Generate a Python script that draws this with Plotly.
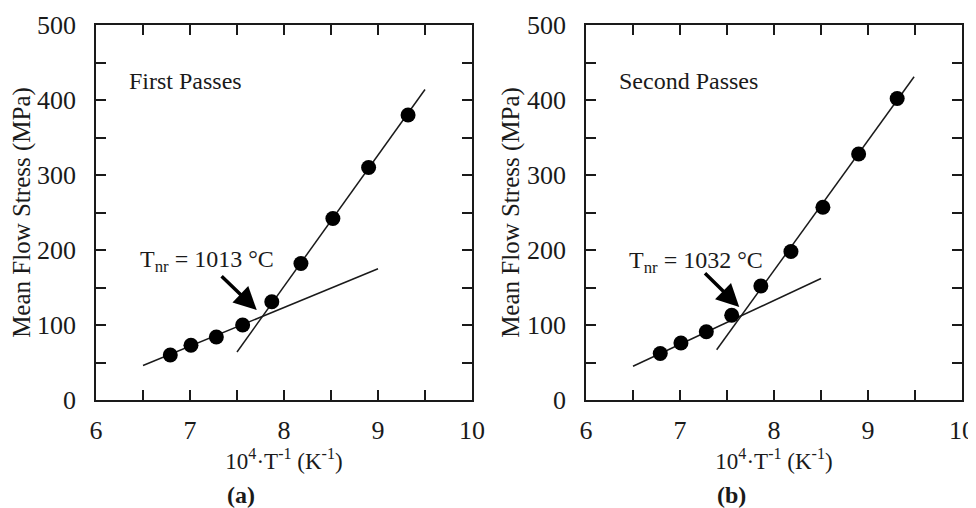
import plotly.graph_objects as go

# First passes
x_first = [6.79, 7.01, 7.28, 7.56, 7.87, 8.18, 8.52, 8.90, 9.32]
y_first = [60, 73, 84, 100, 131, 182, 242, 310, 380]
low_first_x = [6.5, 9.0]
low_first_y = [46, 175]
high_first_x = [7.5, 9.5]
high_first_y = [64, 414]

# Second passes
x_second = [6.79, 7.01, 7.28, 7.55, 7.86, 8.18, 8.52, 8.90, 9.31]
y_second = [62, 76, 91, 113, 152, 198, 257, 328, 402]
low_second_x = [6.5, 8.5]
low_second_y = [45, 162]
high_second_x = [7.39, 9.49]
high_second_y = [67, 431]

panel_titles = ["First Passes", "Second Passes"]
tnr_labels = ["T<sub>nr</sub> = 1013 °C", "T<sub>nr</sub> = 1032 °C"]
panel_letters = ["<b>(a)</b>", "<b>(b)</b>"]

FONT = "Liberation Serif"
INK = "#1a1a1a"

fig = go.Figure()

panels = [
    (x_first, y_first, low_first_x, low_first_y, high_first_x, high_first_y, "x", "y"),
    (x_second, y_second, low_second_x, low_second_y, high_second_x, high_second_y, "x2", "y2"),
]

for px, py, lx, ly, hx, hy, xa, ya in panels:
    fig.add_trace(go.Scatter(x=lx, y=ly, mode="lines", xaxis=xa, yaxis=ya,
                             line=dict(color=INK, width=1.5), showlegend=False))
    fig.add_trace(go.Scatter(x=hx, y=hy, mode="lines", xaxis=xa, yaxis=ya,
                             line=dict(color=INK, width=1.5), showlegend=False))
    fig.add_trace(go.Scatter(x=px, y=py, mode="markers", xaxis=xa, yaxis=ya,
                             marker=dict(color="black", size=15), showlegend=False))

axis_common = dict(
    showline=True, linecolor=INK, linewidth=1.5, mirror="ticks",
    ticks="inside", ticklen=10, tickwidth=1.5, tickcolor=INK,
    showgrid=False, zeroline=False, automargin=False,
    tickfont=dict(family=FONT, size=26, color=INK),
)

x_axis = dict(axis_common, range=[6, 10], dtick=1, tick0=6,
              minor=dict(dtick=0.5, ticks="inside", ticklen=10, tickwidth=1.5, tickcolor=INK),
              ticklabelstandoff=6,
              title=dict(text="10<sup>4</sup>·T<sup>-1</sup> (K<sup>-1</sup>)", standoff=6,
                         font=dict(family=FONT, size=23, color=INK)))
y_axis = dict(axis_common, range=[0, 500], dtick=100, tick0=0,
              minor=dict(dtick=50, ticks="inside", ticklen=10, tickwidth=1.5, tickcolor=INK),
              ticklabelstandoff=13,
              title=dict(text="Mean Flow Stress (MPa)", standoff=0,
                         font=dict(family=FONT, size=25, color=INK)))

# the page body adds an 8px offset; domains are placed to land where the reference has them
fig.update_layout(
    width=976, height=508,
    margin=dict(l=0, r=0, t=0, b=0),
    paper_bgcolor="white", plot_bgcolor="white",
    xaxis=dict(x_axis, domain=[0.0902, 0.4754], anchor="y"),
    yaxis=dict(y_axis, domain=[0.2283, 0.9665], anchor="x"),
    xaxis2=dict(x_axis, domain=[0.5922, 0.9775], anchor="y2"),
    yaxis2=dict(y_axis, domain=[0.2283, 0.9665], anchor="x2"),
)

arrows = [
    ("x", "y", 7.32, 167, 7.71, 120, 6.45, 186),
    ("x2", "y2", 7.25, 171, 7.63, 124, 6.44, 184),
]

for i, (xa, ya, tx, ty, hx, hy, lx, ly) in enumerate(arrows):
    fig.add_annotation(x=hx, y=hy, ax=tx, ay=ty, xref=xa, yref=ya, axref=xa, ayref=ya,
                       showarrow=True, arrowhead=2, arrowsize=1.3, arrowwidth=3.5,
                       arrowcolor="black", standoff=0, text="")
    fig.add_annotation(x=lx, y=ly, xref=xa, yref=ya, text=tnr_labels[i], showarrow=False,
                       xanchor="left", yanchor="middle",
                       font=dict(family=FONT, size=24, color=INK))
    fig.add_annotation(x=6.33, y=425, xref=xa, yref=ya, text=panel_titles[i], showarrow=False,
                       xanchor="left", yanchor="middle",
                       font=dict(family=FONT, size=24, color=INK))

for i, xc in enumerate([0.2387, 0.7408]):
    fig.add_annotation(x=xc, y=0.041, xref="paper", yref="paper", text=panel_letters[i],
                       showarrow=False, xanchor="center", yanchor="middle",
                       font=dict(family=FONT, size=24, color=INK))

fig.write_html("out.html")
